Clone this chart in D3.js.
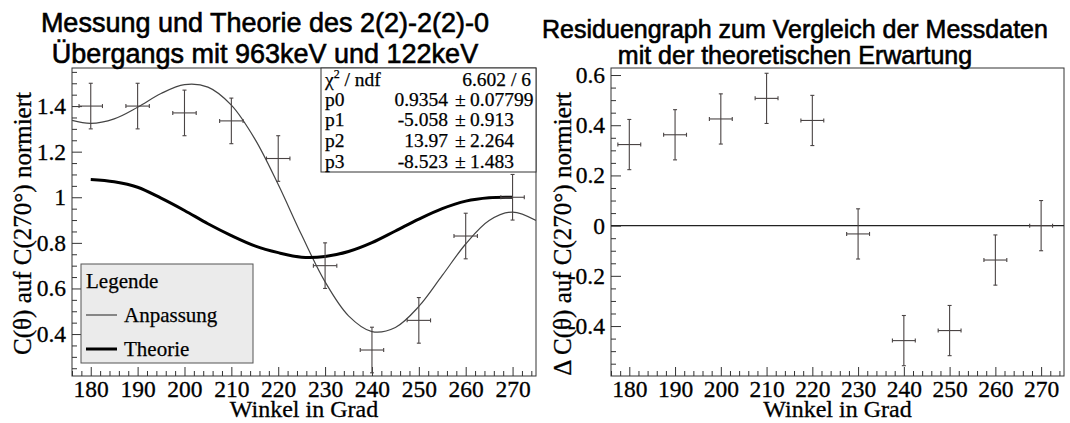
<!DOCTYPE html>
<html><head><meta charset="utf-8">
<script src="https://cdn.jsdelivr.net/npm/d3@7"></script>
<style>
body{margin:0;background:#fff;}
svg{display:block;}
text{fill:#000;}
</style></head><body>
<svg id="c" width="1070" height="423"></svg>
<script>
// ---------- data ----------
const angles       = [180,190,200,210,220,230,240,250,260,270];
const measured     = [1.40,1.40,1.37,1.335,1.17,0.70,0.33,0.46,0.83,1.00];
const measuredErr  = [0.1,0.1,0.1,0.1,0.1,0.1,0.1,0.1,0.1,0.1];
const angleErr     = [2.5,2.5,2.5,2.5,2.5,2.5,2.5,2.5,2.5,2.5];
const residuals    = [0.323,0.362,0.425,0.507,0.419,-0.033,-0.458,-0.418,-0.137,0.0];
const residualErr  = [0.1,0.1,0.1,0.1,0.1,0.1,0.1,0.1,0.1,0.1];

const fitAngles = [176,180,185,190,195,200,205,210,215,220,225,230,235,240,245,250,255,260,265,270,275];
const fitValues = [1.337,1.324,1.344,1.395,1.455,1.494,1.483,1.404,1.256,1.056,0.834,0.629,0.480,0.411,0.429,0.521,0.657,0.795,0.898,0.935,0.898];

const theoryAngles = [180,185,190,195,200,205,210,215,220,225,230,235,240,245,250,255,260,265,270];
const theoryValues = [1.078,1.068,1.044,0.996,0.942,0.884,0.832,0.787,0.757,0.737,0.740,0.762,0.801,0.852,0.904,0.950,0.983,0.998,1.000];

const xTickValues = [180,190,200,210,220,230,240,250,260,270];
const xTickLabels = ["180","190","200","210","220","230","240","250","260","270"];
const leftYTickValues = [0.4,0.6,0.8,1,1.2,1.4];
const leftYTickLabels = ["0.4","0.6","0.8","1","1.2","1.4"];
const rightYTickValues = [-0.4,-0.2,0,0.2,0.4,0.6];
const rightYTickLabels = ["-0.4","-0.2","0","0.2","0.4","0.6"];

const statNames  = ["p0","p1","p2","p3"];
const statValues = ["0.9354","-5.058","13.97","-8.523"];
const statErrors = ["0.07799","0.913","2.264","1.483"];
const chi2Text   = "6.602 / 6";

const legendLabels = ["Anpassung","Theorie"];

// ---------- layout ----------
const svg = d3.select("#c");
const SERIF = "'Liberation Serif','Times New Roman',serif";
const SANS  = "'Liberation Sans',Arial,sans-serif";
const INK = "#333";

const L = {x0:72, x1:536, y0:68, y1:376};
const R = {x0:611, x1:1064, y0:68, y1:376};

const xL = d3.scaleLinear().domain([176,275]).range([L.x0,L.x1]);
const yL = d3.scaleLinear().domain([0.216,1.567]).range([L.y1,L.y0]);
const xR = d3.scaleLinear().domain([176,275]).range([R.x0,R.x1]);
const yR = d3.scaleLinear().domain([-0.599,0.628]).range([R.y1,R.y0]);

const xMinor = d3.range(176,275.01,2).filter(v => v%10!==0);
const yMinorL = d3.range(0.25,1.566,0.05).map(v=>+v.toFixed(2)).filter(v => Math.abs(v*5-Math.round(v*5))>1e-6);
const yMinorR = d3.range(-0.55,0.626,0.05).map(v=>+v.toFixed(2)).filter(v => Math.abs(v*5-Math.round(v*5))>1e-6);

function drawAxes(P, xs, ys, yVals, yLabs){
  const g = svg.append("g");
  g.append("g").attr("transform",`translate(0,${P.y1})`)
    .call(d3.axisBottom(xs).tickValues(xTickValues).tickFormat((d,i)=>xTickLabels[i]).tickSize(-9).tickPadding(4));
  g.append("g").attr("transform",`translate(0,${P.y1})`)
    .call(d3.axisBottom(xs).tickValues(xMinor).tickFormat("").tickSize(-5));
  g.append("g").attr("transform",`translate(${P.x0},0)`)
    .call(d3.axisLeft(ys).tickValues(yVals).tickFormat((d,i)=>yLabs[i]).tickSize(-10).tickPadding(6));
  g.append("g").attr("transform",`translate(${P.x0},0)`)
    .call(d3.axisLeft(ys).tickValues(P===L?yMinorL:yMinorR).tickFormat("").tickSize(-5));
  g.selectAll(".domain").remove();
  g.selectAll(".tick line").attr("stroke",INK);
  g.selectAll(".tick text").attr("font-family",SERIF).attr("font-size",23.5).attr("fill","#000")
    .attr("stroke","#000").attr("stroke-width",0.3);
  svg.append("rect").attr("x",P.x0).attr("y",P.y0).attr("width",P.x1-P.x0).attr("height",P.y1-P.y0)
    .attr("fill","none").attr("stroke",INK).attr("stroke-width",1);
}

function drawErrors(xs, ys, xv, yv, ey, ex, color){
  const g = svg.append("g").attr("stroke",color).attr("stroke-width",1.1).attr("fill","none");
  const cap = 2;
  xv.forEach((a,i)=>{
    const cx = xs(a), cy = ys(yv[i]);
    const x1 = xs(a-ex[i]), x2 = xs(a+ex[i]);
    const yt = ys(yv[i]+ey[i]), yb = ys(yv[i]-ey[i]);
    g.append("line").attr("x1",x1).attr("x2",x2).attr("y1",cy).attr("y2",cy);
    g.append("line").attr("x1",cx).attr("x2",cx).attr("y1",yt).attr("y2",yb);
    g.append("line").attr("x1",cx-cap).attr("x2",cx+cap).attr("y1",yt).attr("y2",yt);
    g.append("line").attr("x1",cx-cap).attr("x2",cx+cap).attr("y1",yb).attr("y2",yb);
    g.append("line").attr("x1",x1).attr("x2",x1).attr("y1",cy-cap).attr("y2",cy+cap);
    g.append("line").attr("x1",x2).attr("x2",x2).attr("y1",cy-cap).attr("y2",cy+cap);
  });
}

// ---------- left chart ----------
svg.append("defs").append("clipPath").attr("id","clipL").append("rect")
  .attr("x",L.x0).attr("y",L.y0).attr("width",L.x1-L.x0).attr("height",L.y1-L.y0);

drawAxes(L, xL, yL, leftYTickValues, leftYTickLabels);

const line = (xs,ys) => d3.line().x(d=>xs(d[0])).y(d=>ys(d[1])).curve(d3.curveCatmullRom.alpha(0.5));

svg.append("path").attr("clip-path","url(#clipL)")
  .datum(fitAngles.map((a,i)=>[a,fitValues[i]]))
  .attr("d",line(xL,yL)).attr("fill","none").attr("stroke","#444").attr("stroke-width",1.2);

svg.append("path").attr("clip-path","url(#clipL)")
  .datum(theoryAngles.map((a,i)=>[a,theoryValues[i]]))
  .attr("d",line(xL,yL)).attr("fill","none").attr("stroke","#000").attr("stroke-width",3);

drawErrors(xL, yL, angles, measured, measuredErr, angleErr, "#4a4444");

// stats box
const S = {x0:321, x1:536, y0:68, y1:172};
svg.append("rect").attr("x",S.x0).attr("y",S.y0).attr("width",S.x1-S.x0).attr("height",S.y1-S.y0)
  .attr("fill","#fff").attr("stroke",INK).attr("stroke-width",1);
const rowH = (S.y1-S.y0)/5;
const st = svg.append("g").attr("font-family",SERIF).attr("font-size",19.5)
  .attr("stroke","#000").attr("stroke-width",0.25);
const chi = st.append("text").attr("x",S.x0+4).attr("y",S.y0+rowH*1-3);
chi.append("tspan").text("χ");
chi.append("tspan").attr("font-size",12).attr("dy",-8).text("2");
chi.append("tspan").attr("dy",8).text(" / ndf");
st.append("text").attr("x",S.x1-5).attr("y",S.y0+rowH*1-3).attr("text-anchor","end").text(chi2Text);
statNames.forEach((n,i)=>{
  const yb = S.y0+rowH*(i+2)-4;
  st.append("text").attr("x",S.x0+4).attr("y",yb).text(n);
  st.append("text").attr("x",S.x0+127).attr("y",yb).attr("text-anchor","end").text(statValues[i]);
  st.append("text").attr("x",S.x0+134).attr("y",yb).text("±");
  st.append("text").attr("x",S.x0+149).attr("y",yb).text(statErrors[i]);
});

// legend
const G = {x0:81, x1:253, y0:264, y1:363};
svg.append("rect").attr("x",G.x0).attr("y",G.y0).attr("width",G.x1-G.x0).attr("height",G.y1-G.y0)
  .attr("fill","#ebebeb").attr("stroke","#555").attr("stroke-width",1);
const lg = svg.append("g").attr("font-family",SERIF).attr("font-size",21)
  .attr("stroke","#000").attr("stroke-width",0.25);
lg.append("text").attr("x",G.x0+5).attr("y",G.y0+24).text("Legende");
const legY = [315,349];
const legW = [1.2,3];
const legC = ["#444","#000"];
legendLabels.forEach((t,i)=>{
  lg.append("line").attr("x1",G.x0+5).attr("x2",G.x0+36).attr("y1",legY[i]).attr("y2",legY[i])
    .attr("stroke",legC[i]).attr("stroke-width",legW[i]);
  lg.append("text").attr("x",G.x0+43).attr("y",legY[i]+7).text(t);
});

// titles / axis titles left
const title = (x,y,size,t) => svg.append("text").attr("x",x).attr("y",y).attr("text-anchor","middle")
  .attr("font-family",SANS).attr("font-size",size).attr("stroke","#000").attr("stroke-width",0.6).text(t);
title(265,32,27,"Messung und Theorie des 2(2)-2(2)-0");
title(265,63,27,"Übergangs mit 963keV und 122keV");
svg.append("text").attr("x",(L.x0+L.x1)/2).attr("y",417).attr("text-anchor","middle")
  .attr("font-family",SERIF).attr("font-size",24).attr("stroke","#000").attr("stroke-width",0.3).text("Winkel in Grad");
svg.append("text").attr("transform",`translate(31,92) rotate(-90)`).attr("text-anchor","end")
  .attr("font-family",SERIF).attr("font-size",25).attr("stroke","#000").attr("stroke-width",0.3).text("C(θ) auf C(270°) normiert");

// ---------- right chart ----------
drawAxes(R, xR, yR, rightYTickValues, rightYTickLabels);
svg.append("line").attr("x1",R.x0).attr("x2",R.x1).attr("y1",yR(0)).attr("y2",yR(0))
  .attr("stroke","#222").attr("stroke-width",1.2);
drawErrors(xR, yR, angles, residuals, residualErr, angleErr, "#4a4444");

title(795,38,25,"Residuengraph zum Vergleich der Messdaten");
title(795,64,25,"mit der theoretischen Erwartung");
svg.append("text").attr("x",(R.x0+R.x1)/2).attr("y",417).attr("text-anchor","middle")
  .attr("font-family",SERIF).attr("font-size",24).attr("stroke","#000").attr("stroke-width",0.3).text("Winkel in Grad");
svg.append("text").attr("transform",`translate(571,92) rotate(-90)`).attr("text-anchor","end")
  .attr("font-family",SERIF).attr("font-size",25).attr("stroke","#000").attr("stroke-width",0.3).text("Δ C(θ) auf C(270°) normiert");
</script>
</body></html>
